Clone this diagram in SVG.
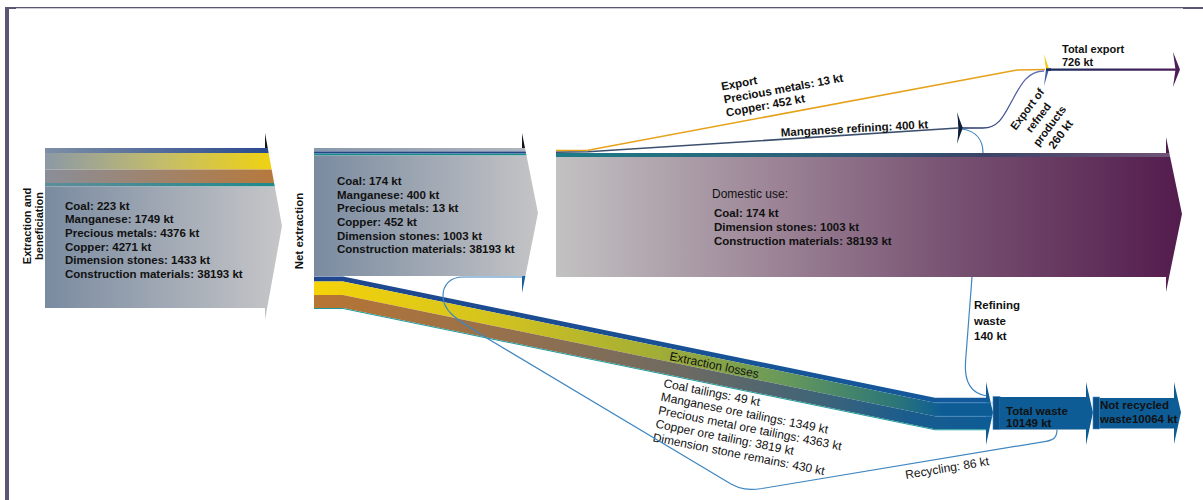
<svg xmlns="http://www.w3.org/2000/svg" width="1203" height="500" viewBox="0 0 1203 500">
<style>
text{font-family:"Liberation Sans",Arial,sans-serif;fill:#111}
.b{font-weight:bold;font-size:11.5px}
.bs{font-weight:bold;font-size:11px}
.r{font-size:12px}
.ln{fill:none;stroke:#3f86c0;stroke-width:1.2}
.wbox{fill:#0d5c96}
.wcap{fill:#0a4f88;stroke:#4a8cc8;stroke-width:0.6}
</style>
<defs>
<linearGradient id="e1" gradientUnits="userSpaceOnUse" x1="45" y1="0" x2="282" y2="0"><stop offset="0" stop-color="#7d8ea6"/><stop offset="1" stop-color="#26478e"/></linearGradient>
<linearGradient id="e2" gradientUnits="userSpaceOnUse" x1="45" y1="0" x2="282" y2="0"><stop offset="0" stop-color="#8c99a6"/><stop offset="0.5" stop-color="#c4bd6a"/><stop offset="1" stop-color="#f4d40a"/></linearGradient>
<linearGradient id="e3" gradientUnits="userSpaceOnUse" x1="45" y1="0" x2="282" y2="0"><stop offset="0" stop-color="#8a8e98"/><stop offset="1" stop-color="#b8783a"/></linearGradient>
<linearGradient id="e4" gradientUnits="userSpaceOnUse" x1="45" y1="0" x2="282" y2="0"><stop offset="0" stop-color="#5f8c9a"/><stop offset="1" stop-color="#1c8a8c"/></linearGradient>
<linearGradient id="gm" gradientUnits="userSpaceOnUse" x1="45" y1="0" x2="282" y2="0"><stop offset="0" stop-color="#7a8ba0"/><stop offset="1" stop-color="#c6c6c8"/></linearGradient>
<linearGradient id="gn" gradientUnits="userSpaceOnUse" x1="314" y1="0" x2="538" y2="0"><stop offset="0" stop-color="#7a8ba0"/><stop offset="1" stop-color="#c4c4c6"/></linearGradient>
<linearGradient id="gns" gradientUnits="userSpaceOnUse" x1="314" y1="0" x2="538" y2="0"><stop offset="0" stop-color="#8898ac"/><stop offset="1" stop-color="#b0b6be"/></linearGradient>
<linearGradient id="gd" gradientUnits="userSpaceOnUse" x1="556" y1="0" x2="1182" y2="0"><stop offset="0" stop-color="#c2c2c2"/><stop offset="0.35" stop-color="#9c8496"/><stop offset="0.62" stop-color="#795473"/><stop offset="1" stop-color="#531c4d"/></linearGradient>
<linearGradient id="gds" gradientUnits="userSpaceOnUse" x1="556" y1="0" x2="1166" y2="0"><stop offset="0" stop-color="#1d7c86"/><stop offset="0.5" stop-color="#2e5a76"/><stop offset="0.7" stop-color="#3a4468"/><stop offset="1" stop-color="#6e5276"/></linearGradient>
<linearGradient id="lb" gradientUnits="userSpaceOnUse" x1="314" y1="0" x2="990" y2="0"><stop offset="0" stop-color="#20468e"/><stop offset="1" stop-color="#125a9c"/></linearGradient>
<linearGradient id="ly" gradientUnits="userSpaceOnUse" x1="314" y1="0" x2="990" y2="0"><stop offset="0" stop-color="#f5d308"/><stop offset="0.25" stop-color="#d6c41e"/><stop offset="0.5" stop-color="#a4ae34"/><stop offset="0.7" stop-color="#66985c"/><stop offset="0.86" stop-color="#2c7678"/><stop offset="0.93" stop-color="#0e5c96"/><stop offset="1" stop-color="#0d5c96"/></linearGradient>
<linearGradient id="lr" gradientUnits="userSpaceOnUse" x1="314" y1="0" x2="990" y2="0"><stop offset="0" stop-color="#b87533"/><stop offset="0.3" stop-color="#94704e"/><stop offset="0.55" stop-color="#6c6a62"/><stop offset="0.75" stop-color="#3e6478"/><stop offset="0.88" stop-color="#1a5c8e"/><stop offset="1" stop-color="#0d5c96"/></linearGradient>
<linearGradient id="gex" gradientUnits="userSpaceOnUse" x1="1049" y1="0" x2="1178" y2="0"><stop offset="0" stop-color="#1c2c5c"/><stop offset="1" stop-color="#4c1e5a"/></linearGradient>
<linearGradient id="grp" gradientUnits="userSpaceOnUse" x1="960" y1="0" x2="1046" y2="0"><stop offset="0" stop-color="#1e2e5e"/><stop offset="1" stop-color="#6a78c0"/></linearGradient>
<clipPath id="cE"><path d="M45,148 H265 V133 L282,226 L265,320 V308 H45 Z"/></clipPath>
<clipPath id="cN"><path d="M314,148 H522 V133 L538,213 L522,293 V276 H314 Z"/></clipPath>
<clipPath id="cD"><path d="M556,153 H1166 V137 L1182,214 L1166,292 V277 H556 Z"/></clipPath>
</defs>
<rect width="1203" height="500" fill="#ffffff"/>
<g id="frame" fill="#5b5676">
<rect x="5" y="7" width="4" height="493"/>
<rect x="5" y="7" width="1198" height="1.3"/>
<rect x="5" y="7" width="11" height="2"/>
<rect x="1183" y="7" width="20" height="2"/>
</g>

<g id="node-extraction">
<g clip-path="url(#cE)">
<rect x="45" y="130" width="240" height="18" fill="#14141e"/>
<rect x="45" y="148" width="240" height="5" fill="url(#e1)"/>
<rect x="45" y="153" width="240" height="16.5" fill="url(#e2)"/>
<rect x="45" y="169.5" width="240" height="13.5" fill="url(#e3)"/>
<rect x="45" y="183" width="240" height="3.5" fill="url(#e4)"/>
<rect x="45" y="186.5" width="240" height="135" fill="url(#gm)"/>
</g>
<text class="bs" transform="translate(31,226) rotate(-90)" text-anchor="middle">Extraction and</text>
<text class="bs" transform="translate(43,226) rotate(-90)" text-anchor="middle">beneficiation</text>
<text class="b" x="65" y="209.5">Coal: 223 kt</text>
<text class="b" x="65" y="223.2">Manganese: 1749 kt</text>
<text class="b" x="65" y="236.9">Precious metals: 4376 kt</text>
<text class="b" x="65" y="250.6">Copper: 4271 kt</text>
<text class="b" x="65" y="264.3">Dimension stones: 1433 kt</text>
<text class="b" x="65" y="278">Construction materials: 38193 kt</text>
</g>

<g id="node-net-extraction">
<g clip-path="url(#cN)">
<rect x="314" y="130" width="230" height="18" fill="#14141e"/>
<rect x="314" y="148" width="230" height="3.5" fill="url(#gns)"/>
<rect x="314" y="151.5" width="230" height="2" fill="#27438a"/>
<rect x="314" y="153.5" width="230" height="2" fill="#1a8a8c"/>
<rect x="314" y="155.5" width="230" height="120.5" fill="url(#gn)"/>
<rect x="314" y="276" width="230" height="20" fill="#1a5ca0"/>
</g>
<text class="b" transform="translate(303,231) rotate(-90)" text-anchor="middle">Net extraction</text>
<text class="b" x="337" y="185">Coal: 174 kt</text>
<text class="b" x="337" y="198.7">Manganese: 400 kt</text>
<text class="b" x="337" y="212.3">Precious metals: 13 kt</text>
<text class="b" x="337" y="226">Copper: 452 kt</text>
<text class="b" x="337" y="239.7">Dimension stones: 1003 kt</text>
<text class="b" x="337" y="253.4">Construction materials: 38193 kt</text>
</g>

<g id="node-domestic-use">
<g clip-path="url(#cD)">
<rect x="556" y="135" width="630" height="18" fill="#4e1c4a"/>
<rect x="556" y="153" width="630" height="4" fill="url(#gds)"/>
<rect x="556" y="157" width="630" height="137" fill="url(#gd)"/>
</g>
<text class="r" x="712" y="197.5">Domestic use:</text>
<text class="b" x="714" y="217">Coal: 174 kt</text>
<text class="b" x="714" y="231">Dimension stones: 1003 kt</text>
<text class="b" x="714" y="245">Construction materials: 38193 kt</text>
</g>

<g id="node-total-export">
<path d="M1173,52 L1180,69.5 L1173,87 L1175.5,69.5 Z" fill="#4c1e58"/>
<text class="bs" x="1062" y="52.5">Total export</text>
<text class="bs" x="1062" y="66">726 kt</text>
</g>

<g id="node-total-waste">
<rect class="wcap" x="993" y="396.5" width="7" height="33"/>
<path class="wbox" d="M1000,397 H1086 V382 L1093,412.5 L1086,445 V429.5 H1000 Z"/>
<text class="b" x="1006" y="415">Total waste</text>
<text class="b" x="1006" y="427">10149 kt</text>
</g>

<g id="node-not-recycled">
<rect class="wcap" x="1093" y="397" width="6.5" height="32"/>
<path class="wbox" d="M1099.5,398 H1174 V382 L1181,412.5 L1174,444 V428.5 H1099.5 Z"/>
<text class="b" x="1100" y="409">Not recycled</text>
<text class="b" x="1100" y="423">waste10064 kt</text>
</g>

<g id="connectors">
<path d="M314,276.5 H343 L935,397.8 H986 V402.8 H935 L343,281.5 H314 Z" fill="url(#lb)"/>
<path d="M314,281.5 H343 L935,402.8 H986 V416.3 H935 L343,295 H314 Z" fill="url(#ly)"/>
<path d="M314,295 H343 L935,416.3 H986 V429.3 H935 L343,308 H314 Z" fill="url(#lr)"/>
<path d="M314,308 H343 L935,429.3 H986 V430.3 H935 L343,309 H314 Z" fill="#1e9a9a"/>
<path d="M986,397.8 V382 L993,412.5 L986,445 V430.3 Z" fill="#0d5c96"/>
<path d="M935,402.8 H993 M935,416.3 H993" stroke="#5a9ad0" stroke-width="0.8" opacity="0.7"/>
<text class="r" transform="translate(669,360) rotate(11.5)">Extraction losses</text>
<g transform="translate(663,387) rotate(11.2)">
<text class="r" x="0" y="0">Coal tailings: 49 kt</text>
<text class="r" x="0" y="13.8">Manganese ore tailings: 1349 kt</text>
<text class="r" x="0" y="27.6">Precious metal ore tailings: 4363 kt</text>
<text class="r" x="0" y="41.4">Copper ore tailing: 3819 kt</text>
<text class="r" x="0" y="55.2">Dimension stone remains: 430 kt</text>
</g>

<path d="M556,150.6 L588,150.2 L1017,70 L1045,69.5" fill="none" stroke="#e6a21a" stroke-width="1.6"/>
<g transform="translate(722,90.5) rotate(-10.5)">
<text class="b" x="0" y="0">Export</text>
<text class="b" x="0" y="13.3">Precious metals: 13 kt</text>
<text class="b" x="0" y="26.6">Copper: 452 kt</text>
</g>

<path d="M556,152.3 L588,151.8 L958,128" fill="none" stroke="#3c506e" stroke-width="1.6"/>
<path d="M957,112 Q961,124 963,128 Q961,132 957,144 Q959.5,128 957,112 Z" fill="#0f1e3a"/>
<text class="b" transform="translate(781,136.5) rotate(-3.2)">Manganese refining: 400 kt</text>

<path d="M962,128 L983,128 C1000,128 1005,113 1013,99 C1021,84 1028,71 1044,71" fill="none" stroke="url(#grp)" stroke-width="1.3"/>
<path d="M1044,54 L1049,69 L1046,69 Z" fill="#f0c810"/>
<path d="M1046,69 L1049,69 L1044,86 Z" fill="#3a5ab0"/>
<rect x="1046" y="68.3" width="5" height="2.6" fill="#1c2c5c"/>
<path d="M1049,69.6 H1176" fill="none" stroke="url(#gex)" stroke-width="2.2"/>
<g transform="translate(1027,109) rotate(-53)" text-anchor="middle">
<text class="bs" x="0" y="4">Export of</text>
<text class="bs" x="0" y="18">refned</text>
<text class="bs" x="0" y="32">products</text>
<text class="b" x="0" y="46">260 kt</text>
</g>

<path class="ln" d="M962,129 C976,131 983,140 983,153"/>
<path class="ln" d="M972,277 L965.5,362 C964,384 973,394 987,396"/>
<text class="b" x="974" y="309">Refining</text>
<text class="b" x="974" y="324.5">waste</text>
<text class="b" x="974" y="339.5">140 kt</text>

<path class="ln" d="M1057,429.5 C1057,437 1054,440 1046,441.3 L762,488.5 C748,490.5 740,489 731,484 L480,334 C458,320 443,312 443,296 C443,285 450,277 463,277 L523,277"/>
<text class="r" transform="translate(906,479) rotate(-9.5)">Recycling: 86 kt</text>
</g>
</svg>
